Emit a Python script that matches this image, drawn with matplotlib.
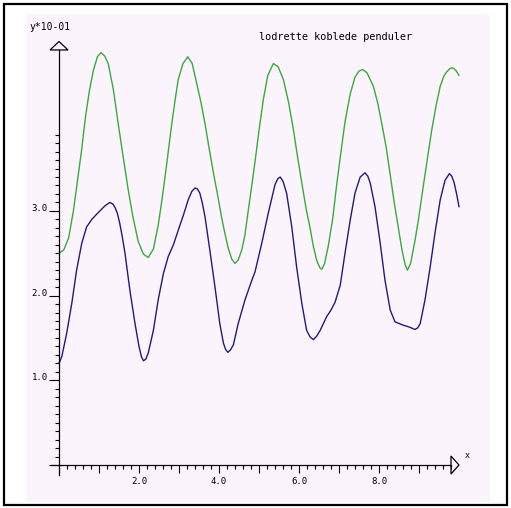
import matplotlib
matplotlib.use("Agg")
import matplotlib.pyplot as plt
import numpy as np
from matplotlib.patches import Rectangle, Polygon

# values
x_green = [0.00, 0.12, 0.24, 0.36, 0.46, 0.56, 0.66, 0.76, 0.86, 0.96, 1.05, 1.14, 1.23,
           1.36, 1.48, 1.61, 1.73, 1.84, 1.98, 2.11, 2.23, 2.36, 2.48, 2.58, 2.70, 2.80,
           2.90, 2.98, 3.10, 3.22, 3.33, 3.44, 3.55, 3.65, 3.76, 3.88, 3.98, 4.07, 4.15,
           4.23, 4.32, 4.40, 4.48, 4.57, 4.65, 4.73, 4.82, 4.90, 5.00, 5.11, 5.22, 5.36,
           5.48, 5.61, 5.74, 5.86, 5.97, 6.07, 6.18, 6.28, 6.36, 6.44, 6.52, 6.57, 6.64,
           6.73, 6.84, 6.94, 7.05, 7.15, 7.28, 7.40, 7.50, 7.59, 7.70, 7.86, 7.97, 8.07,
           8.18, 8.28, 8.38, 8.48, 8.57, 8.65, 8.71, 8.79, 8.90, 8.98, 9.11, 9.22, 9.32,
           9.43, 9.53, 9.62, 9.69, 9.77, 9.84, 9.92, 10.00]
y_green = [2.50, 2.54, 2.68, 3.00, 3.35, 3.70, 4.10, 4.42, 4.66, 4.82, 4.87, 4.83, 4.74,
           4.43, 4.03, 3.62, 3.25, 2.95, 2.64, 2.49, 2.45, 2.55, 2.83, 3.15, 3.58, 3.96,
           4.30, 4.55, 4.74, 4.82, 4.74, 4.51, 4.28, 4.03, 3.72, 3.40, 3.15, 2.91, 2.73,
           2.56, 2.43, 2.38, 2.42, 2.54, 2.72, 3.00, 3.30, 3.58, 3.95, 4.32, 4.60, 4.74,
           4.70, 4.55, 4.28, 3.96, 3.62, 3.33, 3.02, 2.79, 2.58, 2.42, 2.33, 2.31, 2.38,
           2.58, 2.90, 3.30, 3.70, 4.05, 4.38, 4.58, 4.65, 4.67, 4.63, 4.47, 4.27, 4.03,
           3.75, 3.43, 3.10, 2.81, 2.55, 2.37, 2.30, 2.38, 2.65, 2.88, 3.30, 3.65, 3.96,
           4.25, 4.47, 4.59, 4.64, 4.68, 4.69, 4.66, 4.60]

x_blue = [0.00, 0.07, 0.19, 0.32, 0.44, 0.57, 0.69, 0.82, 0.98, 1.15, 1.27, 1.35, 1.40,
          1.46, 1.52, 1.58, 1.65, 1.77, 1.90, 2.00, 2.06, 2.11, 2.17, 2.23, 2.36, 2.48,
          2.61, 2.73, 2.86, 2.98, 3.11, 3.23, 3.32, 3.40, 3.46, 3.52, 3.58, 3.65, 3.77,
          3.90, 4.02, 4.11, 4.16, 4.22, 4.29, 4.36, 4.48, 4.65, 4.82, 4.90, 5.00, 5.07,
          5.23, 5.40, 5.47, 5.53, 5.60, 5.69, 5.82, 5.94, 6.07, 6.19, 6.28, 6.36, 6.44,
          6.53, 6.69, 6.80, 6.90, 7.03, 7.15, 7.28, 7.40, 7.53, 7.65, 7.72, 7.78, 7.90,
          8.03, 8.15, 8.28, 8.40, 8.61, 8.75, 8.90, 8.97, 9.03, 9.15, 9.28, 9.40, 9.53,
          9.65, 9.76, 9.82, 9.88, 9.94, 10.00]
y_blue = [1.20, 1.28, 1.55, 1.91, 2.30, 2.62, 2.81, 2.90, 2.98, 3.06, 3.10, 3.08, 3.04,
          2.97, 2.85, 2.70, 2.50, 2.07, 1.67, 1.40, 1.28, 1.23, 1.25, 1.32, 1.59, 1.95,
          2.26, 2.46, 2.60, 2.77, 2.95, 3.13, 3.23, 3.27, 3.26, 3.21, 3.10, 2.93, 2.54,
          2.10, 1.67, 1.44, 1.37, 1.33, 1.36, 1.42, 1.67, 1.95, 2.18, 2.28, 2.48, 2.62,
          2.97, 3.31, 3.38, 3.40, 3.35, 3.21, 2.81, 2.34, 1.91, 1.59, 1.51, 1.48, 1.52,
          1.59, 1.75, 1.83, 1.92, 2.12, 2.50, 2.89, 3.21, 3.40, 3.45, 3.41, 3.33, 3.05,
          2.62, 2.18, 1.83, 1.69, 1.65, 1.63, 1.60, 1.62, 1.67, 1.95, 2.34, 2.74, 3.13,
          3.36, 3.44, 3.41, 3.33, 3.20, 3.05]

y_ticklabels = ["1.0", "2.0", "3.0"]
x_ticklabels = ["2.0", "4.0", "6.0", "8.0"]
title = "lodrette koblede penduler"

W, H = 511, 508
fig = plt.figure(figsize=(W / 100, H / 100), dpi=100)
fig.patch.set_facecolor("white")

# outer black frame
fig.patches.append(Rectangle((4 / W, 3 / H), 503 / W, 501 / H, transform=fig.transFigure,
                             fill=False, edgecolor="black", linewidth=1.6))

# pink plotting area, pixel mapping: x -> 59 + 40*x, y -> 465 - 84.7*y
pl, pr, pt, pb = 26, 490, 14, 502
ax = fig.add_axes([pl / W, (H - pb) / H, (pr - pl) / W, (pb - pt) / H])
ax.set_facecolor("#fcf4fc")
ax.set_xlim((pl - 59) / 40, (pr - 59) / 40)
ax.set_ylim((465 - pb) / 84.7, (465 - pt) / 84.7)

for s in ["top", "right"]:
    ax.spines[s].set_visible(False)
ax.spines["left"].set_position(("data", 0))
ax.spines["bottom"].set_position(("data", 0))
ax.spines["left"].set_bounds(-0.12, 4.9)
ax.spines["bottom"].set_bounds(-0.2, 9.8)
for s in ["left", "bottom"]:
    ax.spines[s].set_linewidth(0.9)

ax.set_yticks([0, 1, 2, 3])
ax.set_yticklabels([""] + y_ticklabels)
ax.set_yticks(np.arange(0.1, 4.0, 0.1), minor=True)
ax.set_xticks(np.arange(0, 10, 1))
ax.set_xticklabels(["" if i % 2 or i == 0 else x_ticklabels[i // 2 - 1] for i in range(10)])
ax.set_xticks(np.arange(0.2, 9.9, 0.2), minor=True)

ax.tick_params(axis="y", which="major", length=7.2, width=0.8, pad=0.8, labelsize=6.5)
ax.tick_params(axis="y", which="minor", length=3.0, width=0.8)
ax.tick_params(axis="x", which="major", length=6.0, width=0.8, pad=2.5, labelsize=6.5)
ax.tick_params(axis="x", which="minor", length=3.2, width=0.8)
for lab in ax.get_yticklabels():
    lab.set_verticalalignment("baseline")
    lab.set_family("DejaVu Sans Mono")
for lab in ax.get_xticklabels():
    lab.set_family("DejaVu Sans Mono")

# arrow heads
ax.add_patch(Polygon([(0, 5.0), (-9 / 40, 4.9), (9 / 40, 4.9)], closed=True,
                     facecolor="none", edgecolor="black", linewidth=0.9, clip_on=False))
ax.add_patch(Polygon([(10.0, 0), (9.8, 9 / 84.7), (9.8, -9 / 84.7)], closed=True,
                     facecolor="none", edgecolor="black", linewidth=0.9, clip_on=False))

ax.plot(x_green, y_green, color="#3aaa3a", linewidth=1.0)
ax.plot(x_blue, y_blue, color="#1c1c80", linewidth=1.0)

ax.text(-0.75, (465 - 27) / 84.7, "y*10-01", family="DejaVu Sans Mono", fontsize=7,
        va="center", ha="left")
ax.text((336 - 59) / 40, (465 - 37) / 84.7, title, family="DejaVu Sans Mono", fontsize=7.4,
        va="center", ha="center")
ax.text((467 - 59) / 40, (465 - 455) / 84.7, "x", family="DejaVu Sans Mono", fontsize=6,
        va="center", ha="center")

fig.savefig("out.png", dpi=100)
